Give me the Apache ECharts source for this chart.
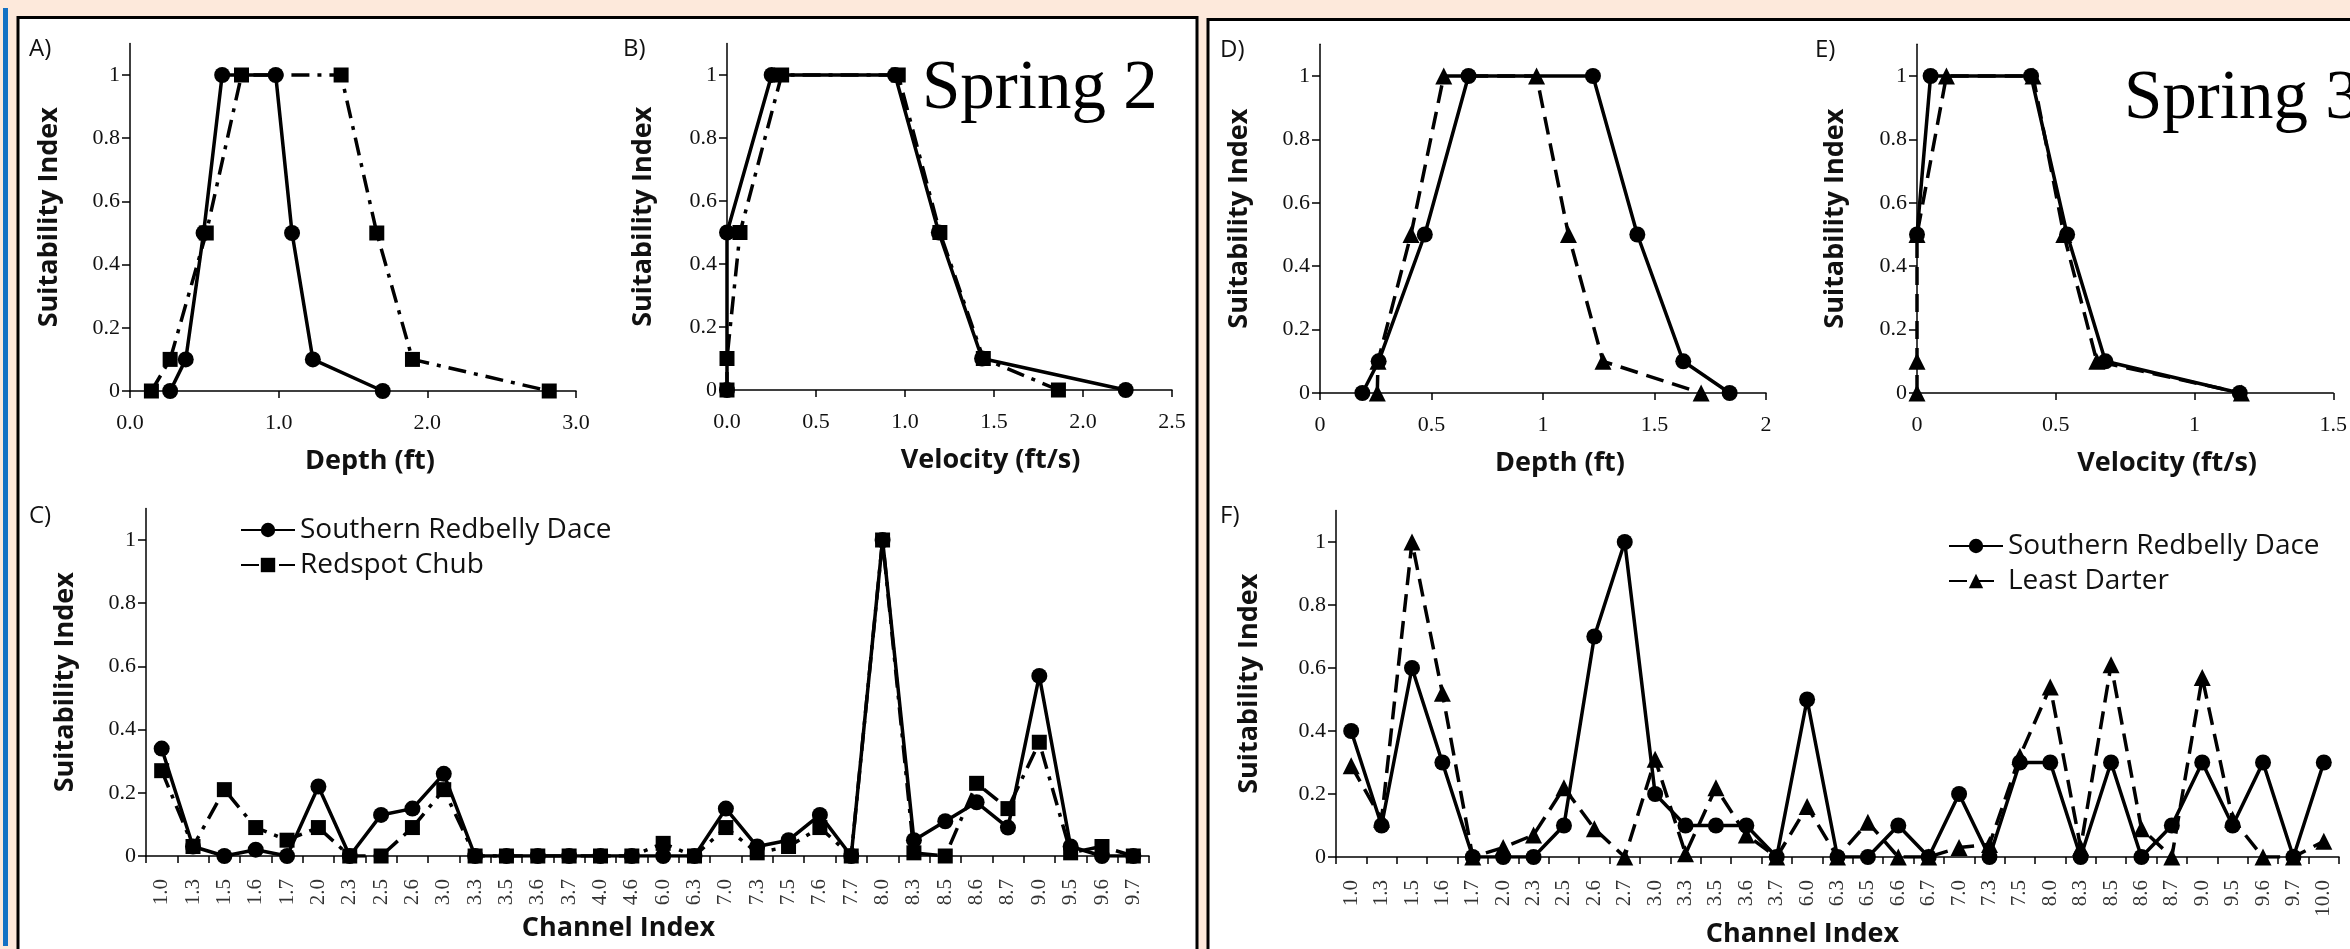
<!DOCTYPE html>
<html><head><meta charset="utf-8">
<script src="https://cdn.jsdelivr.net/npm/echarts@6/dist/echarts.min.js"></script>
<style>html,body{margin:0;padding:0;background:#fde9db}#c{width:2350px;height:949px}</style>
</head><body><div id="c"></div>
<script>
// ---------- data ----------
const yTicks = [0, 0.2, 0.4, 0.6, 0.8, 1];
// A) Spring 2 depth
const depthDaceS2 = [0.27, 0.375, 0.495, 0.62, 0.98, 1.09, 1.23, 1.70];
const siDepthDaceS2 = [0, 0.1, 0.5, 1, 1, 0.5, 0.1, 0];
const depthChubS2 = [0.144, 0.27, 0.513, 0.75, 1.42, 1.66, 1.90, 2.82];
const siDepthChubS2 = [0, 0.1, 0.5, 1, 1, 0.5, 0.1, 0];
// B) Spring 2 velocity
const velDaceS2 = [0, 0, 0.251, 0.944, 1.19, 1.433, 2.24];
const siVelDaceS2 = [0, 0.5, 1, 1, 0.5, 0.1, 0];
const velChubS2 = [0, 0, 0.073, 0.307, 0.962, 1.196, 1.44, 1.862];
const siVelChubS2 = [0, 0.1, 0.5, 1, 1, 0.5, 0.1, 0];
// C) Spring 2 channel index
const channelCatsS2 = ['1.0','1.3','1.5','1.6','1.7','2.0','2.3','2.5','2.6','3.0','3.3','3.5','3.6','3.7','4.0','4.6','6.0','6.3','7.0','7.3','7.5','7.6','7.7','8.0','8.3','8.5','8.6','8.7','9.0','9.5','9.6','9.7'];
const chanDaceS2 = [0.34,0.03,0,0.02,0,0.22,0,0.13,0.15,0.26,0,0,0,0,0,0,0,0,0.15,0.03,0.05,0.13,0,1,0.05,0.11,0.17,0.09,0.57,0.03,0,0];
const chanChubS2 = [0.27,0.03,0.21,0.09,0.05,0.09,0,0,0.09,0.21,0,0,0,0,0,0,0.04,0,0.09,0.01,0.03,0.09,0,1,0.01,0,0.23,0.15,0.36,0.01,0.03,0];
// D) Spring 3 depth
const depthDaceS3 = [0.19, 0.263, 0.47, 0.666, 1.224, 1.423, 1.629, 1.837];
const siDepthDaceS3 = [0, 0.1, 0.5, 1, 1, 0.5, 0.1, 0];
const depthDarterS3 = [0.257, 0.26, 0.408, 0.555, 0.971, 1.114, 1.269, 1.709];
const siDepthDarterS3 = [0, 0.1, 0.5, 1, 1, 0.5, 0.1, 0];
// E) Spring 3 velocity
const velDaceS3 = [0, 0.049, 0.411, 0.541, 0.679, 1.163];
const siVelDaceS3 = [0.5, 1, 1, 0.5, 0.1, 0];
const velDarterS3 = [0, 0, 0, 0.106, 0.418, 0.529, 0.648, 1.169];
const siVelDarterS3 = [0, 0.1, 0.5, 1, 1, 0.5, 0.1, 0];
// F) Spring 3 channel index
const channelCatsS3 = ['1.0','1.3','1.5','1.6','1.7','2.0','2.3','2.5','2.6','2.7','3.0','3.3','3.5','3.6','3.7','6.0','6.3','6.5','6.6','6.7','7.0','7.3','7.5','8.0','8.3','8.5','8.6','8.7','9.0','9.5','9.6','9.7','10.0'];
const chanDaceS3 = [0.4,0.1,0.6,0.3,0,0,0,0.1,0.7,1,0.2,0.1,0.1,0.1,0,0.5,0,0,0.1,0,0.2,0,0.3,0.3,0,0.3,0,0.1,0.3,0.1,0.3,0,0.3];
const chanDarterS3 = [0.29,0.12,1,0.52,0,0.03,0.07,0.22,0.09,0,0.31,0.01,0.22,0.07,0,0.16,0,0.11,0,0,0.03,0.04,0.32,0.54,0.03,0.61,0.09,0,0.57,0.12,0,0,0.05];

// ---------- styling helpers ----------
const DACE = 'Southern Redbelly Dace', CHUB = 'Redspot Chub', DARTER = 'Least Darter';
const SANS = 'Open Sans', SERIF = 'Liberation Serif';
const zip = (xs, ys) => xs.map((x, i) => [x, ys[i]]);
const DASHDOT = [18, 8, 4, 8], DASH = [18, 9];

function line(name, gi, data, symbol, dash) {
  return {
    name, type: 'line', xAxisIndex: gi, yAxisIndex: gi, data,
    symbol, symbolSize: symbol === 'triangle' ? 17 : (symbol === 'rect' ? 15 : 16),
    showSymbol: true, animation: false,
    lineStyle: { color: '#000', width: 3.5, type: dash || 'solid' },
    itemStyle: { color: '#000' }
  };
}
function yAxis(gi, gap) {
  return {
    type: 'value', gridIndex: gi, min: 0, max: 1.1,
    name: 'Suitability Index', nameLocation: 'middle', nameRotate: 90, nameGap: gap,
    nameTextStyle: { fontFamily: SANS, fontWeight: 'bold', fontSize: 27, color: '#111' },
    axisLine: { show: true, lineStyle: { color: '#000', width: 1.5 } },
    axisTick: { show: true, length: 8, customValues: yTicks, lineStyle: { color: '#000', width: 1.5 } },
    axisLabel: { customValues: yTicks, fontFamily: SERIF, fontSize: 22, color: '#111', margin: 10 },
    splitLine: { show: false }
  };
}
function xValAxis(gi, max, interval, name, shift, fmt) {
  return {
    type: 'value', gridIndex: gi, min: 0, max, interval,
    name, nameLocation: 'middle', nameGap: 57,
    nameTextStyle: { fontFamily: SANS, fontWeight: 'bold', fontSize: 27, color: '#111',
      padding: shift >= 0 ? [0, 0, 0, 2 * shift] : [0, -2 * shift, 0, 0] },
    axisLine: { show: true, onZero: false, lineStyle: { color: '#000', width: 1.5 } },
    axisTick: { show: true, length: 7, lineStyle: { color: '#000', width: 1.5 } },
    axisLabel: { fontFamily: SERIF, fontSize: 22, color: '#111', margin: 21, formatter: fmt },
    splitLine: { show: false }
  };
}
function xCatAxis(gi, cats, shift) {
  return {
    type: 'category', gridIndex: gi, data: cats, boundaryGap: true,
    name: 'Channel Index', nameLocation: 'middle', nameGap: 59,
    nameTextStyle: { fontFamily: SANS, fontWeight: 'bold', fontSize: 27, color: '#111',
      padding: shift >= 0 ? [0, 0, 0, 2 * shift] : [0, -2 * shift, 0, 0] },
    axisLine: { show: true, onZero: false, lineStyle: { color: '#000', width: 1.5 } },
    axisTick: { show: true, length: 7, interval: 0, lineStyle: { color: '#000', width: 1.5 } },
    axisLabel: { interval: 0, rotate: 90, fontFamily: SERIF, fontSize: 21, color: '#333', margin: 23 },
    splitLine: { show: false }
  };
}
const fix1 = v => v.toFixed(1);
const legendText = { fontFamily: SANS, fontSize: 28, color: '#111', lineHeight: 30 };
function panelLabel(text, x, y) {
  return { type: 'text', x, y, z: 100, style: { text, fontFamily: SANS, fontSize: 24, fill: '#111', verticalAlign: 'middle' } };
}
function springLabel(text, x, y) {
  return { type: 'text', x, y, z: 100, style: { text, fontFamily: SERIF, fontSize: 69, fill: '#000', verticalAlign: 'middle' } };
}

const option = {
  backgroundColor: '#fde9db',
  animation: false,
  graphic: [
    { type: 'rect', z: -10, shape: { x: 3, y: 8, width: 5, height: 938 }, style: { fill: '#1472c4' } },
    { type: 'rect', z: -10, shape: { x: 18, y: 17.5, width: 1179, height: 1000 }, style: { fill: '#fff', stroke: '#000', lineWidth: 3 } },
    { type: 'rect', z: -10, shape: { x: 1208, y: 19.5, width: 1200, height: 1000 }, style: { fill: '#fff', stroke: '#000', lineWidth: 3 } },
    panelLabel('A)', 29, 49), panelLabel('B)', 623, 49), panelLabel('C)', 29, 516),
    panelLabel('D)', 1220, 50), panelLabel('E)', 1815, 50), panelLabel('F)', 1220, 516),
    springLabel('Spring 2', 922, 90), springLabel('Spring 3', 2124, 100)
  ],
  legend: [
    { left: 235, top: 510, orient: 'vertical', itemWidth: 54, itemHeight: 18, itemGap: 5,
      data: [DACE, CHUB], textStyle: legendText },
    { left: 1943, top: 526, orient: 'vertical', itemWidth: 54, itemHeight: 18, itemGap: 5,
      data: [DACE, DARTER], textStyle: legendText }
  ],
  grid: [
    { left: 130, top: 43.4, width: 446, height: 347.6 },
    { left: 727, top: 43.5, width: 445, height: 346.5 },
    { left: 146, top: 508.4, width: 1003, height: 347.6 },
    { left: 1320, top: 44.3, width: 446, height: 348.7 },
    { left: 1917, top: 44.3, width: 444.7, height: 348.7 },
    { left: 1336, top: 510.5, width: 1003, height: 346.5 }
  ],
  xAxis: [
    xValAxis(0, 3, 1, 'Depth (ft)', 17, fix1),
    xValAxis(1, 2.5, 0.5, 'Velocity (ft/s)', 41, fix1),
    xCatAxis(2, channelCatsS2, -29),
    xValAxis(3, 2, 0.5, 'Depth (ft)', 17),
    xValAxis(4, 1.5, 0.5, 'Velocity (ft/s)', 42),
    xCatAxis(5, channelCatsS3, -35)
  ],
  yAxis: [yAxis(0, 67), yAxis(1, 70), yAxis(2, 67), yAxis(3, 67), yAxis(4, 68), yAxis(5, 73)],
  series: [
    line(DACE, 0, zip(depthDaceS2, siDepthDaceS2), 'circle'),
    line(CHUB, 0, zip(depthChubS2, siDepthChubS2), 'rect', DASHDOT),
    line(DACE, 1, zip(velDaceS2, siVelDaceS2), 'circle'),
    line(CHUB, 1, zip(velChubS2, siVelChubS2), 'rect', DASHDOT),
    line(DACE, 2, chanDaceS2, 'circle'),
    line(CHUB, 2, chanChubS2, 'rect', DASHDOT),
    line(DACE, 3, zip(depthDaceS3, siDepthDaceS3), 'circle'),
    line(DARTER, 3, zip(depthDarterS3, siDepthDarterS3), 'triangle', DASH),
    line(DACE, 4, zip(velDaceS3, siVelDaceS3), 'circle'),
    line(DARTER, 4, zip(velDarterS3, siVelDarterS3), 'triangle', DASH),
    line(DACE, 5, chanDaceS3, 'circle'),
    line(DARTER, 5, chanDarterS3, 'triangle', DASH)
  ]
};
const chart = echarts.init(document.getElementById('c'), null, { renderer: 'canvas' });
chart.setOption(option);
</script></body></html>
